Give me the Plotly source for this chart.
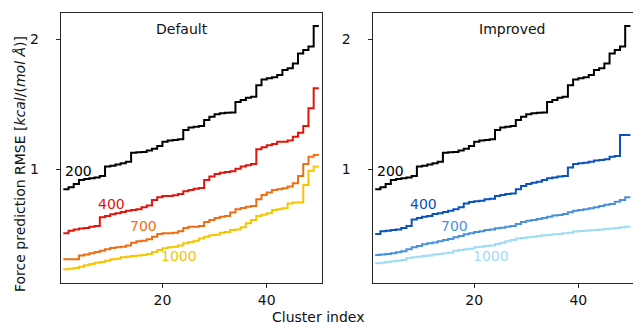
import plotly.graph_objects as go

# Cluster indices (50 clusters, step lines)
clusters = list(range(1, 51))

# Sorted per-cluster force RMSE values, one value per step level
default_200 = [0.846,0.862,0.887,0.918,0.926,0.931,0.938,0.949,1.021,1.028,1.038,1.046,1.059,1.128,1.131,1.133,1.144,1.159,1.179,1.213,1.221,1.226,1.231,1.303,1.321,1.328,1.333,1.379,1.405,1.423,1.431,1.436,1.438,1.518,1.533,1.551,1.559,1.646,1.692,1.700,1.708,1.726,1.764,1.777,1.815,1.892,1.918,1.944,2.103]
default_400 = [0.508,0.528,0.538,0.544,0.549,0.559,0.564,0.631,0.641,0.654,0.662,0.672,0.682,0.687,0.692,0.708,0.721,0.764,0.785,0.795,0.795,0.800,0.810,0.831,0.841,0.851,0.856,0.918,0.944,0.964,0.974,0.979,0.985,1.005,1.021,1.031,1.041,1.154,1.169,1.185,1.195,1.213,1.213,1.221,1.251,1.282,1.333,1.469,1.623]
default_700 = [0.308,0.308,0.308,0.338,0.344,0.354,0.364,0.374,0.385,0.395,0.400,0.405,0.415,0.436,0.446,0.451,0.462,0.482,0.503,0.508,0.508,0.513,0.523,0.549,0.559,0.559,0.564,0.595,0.610,0.626,0.636,0.641,0.667,0.692,0.703,0.713,0.718,0.769,0.803,0.821,0.841,0.846,0.854,0.867,0.892,0.949,1.041,1.097,1.110]
default_1000 = [0.231,0.236,0.241,0.251,0.262,0.272,0.282,0.287,0.297,0.308,0.313,0.323,0.328,0.333,0.338,0.341,0.349,0.364,0.379,0.392,0.400,0.405,0.415,0.431,0.441,0.451,0.467,0.482,0.492,0.497,0.513,0.518,0.533,0.538,0.554,0.585,0.610,0.641,0.651,0.662,0.687,0.692,0.700,0.738,0.744,0.744,0.879,0.990,1.021]

improved_200 = list(default_200)
improved_400 = [0.503,0.523,0.528,0.533,0.538,0.549,0.564,0.615,0.626,0.636,0.641,0.656,0.662,0.672,0.682,0.692,0.708,0.738,0.749,0.754,0.759,0.769,0.774,0.795,0.803,0.810,0.815,0.846,0.872,0.887,0.897,0.905,0.918,0.931,0.938,0.944,0.949,1.015,1.041,1.046,1.051,1.059,1.067,1.072,1.077,1.097,1.103,1.264,1.264]
improved_700 = [0.341,0.344,0.349,0.354,0.362,0.369,0.385,0.400,0.410,0.423,0.431,0.438,0.446,0.456,0.464,0.477,0.487,0.500,0.508,0.518,0.523,0.533,0.538,0.546,0.551,0.559,0.564,0.579,0.595,0.605,0.610,0.618,0.626,0.636,0.644,0.649,0.656,0.669,0.682,0.687,0.692,0.700,0.708,0.718,0.728,0.733,0.751,0.764,0.785]
improved_1000 = [0.277,0.282,0.287,0.292,0.297,0.303,0.318,0.323,0.328,0.333,0.338,0.344,0.349,0.354,0.359,0.374,0.379,0.385,0.390,0.400,0.405,0.410,0.415,0.426,0.436,0.446,0.456,0.467,0.472,0.477,0.482,0.487,0.492,0.495,0.500,0.503,0.508,0.513,0.521,0.526,0.528,0.531,0.533,0.538,0.541,0.544,0.549,0.554,0.559]

sample_labels = ["200", "400", "700", "1000"]
panel_titles = ["Default", "Improved"]
x_ticks = [20, 40]
y_ticks = [1, 2]
y_tick_text = ["1", "2"]

default_colors = ["#000000", "#e3140c", "#f06e12", "#f7c400"]
improved_colors = ["#000000", "#0a52bd", "#4a90dc", "#9edcf8"]

# label anchor positions (data coords) for the sample-size labels
label_x = [4.0, 10.3, 16.3, 23.2]
label_y = [0.985, 0.735, 0.565, 0.333]

FONT = "DejaVu Sans"
FS = 14
fig = go.Figure()

panels = [
    ([default_200, default_400, default_700, default_1000], default_colors, "x", "y"),
    ([improved_200, improved_400, improved_700, improved_1000], improved_colors, "x2", "y2"),
]

for series, colors, xa, ya in panels:
    for vals, col in zip(series, colors):
        yy = vals + [vals[-1]]
        fig.add_trace(go.Scatter(x=clusters, y=yy, mode="lines", line=dict(color=col, width=2, shape="hv"),
                                 xaxis=xa, yaxis=ya, showlegend=False, hoverinfo="skip"))
    for lab, lx, ly, col in zip(sample_labels, label_x, label_y, colors):
        fig.add_annotation(x=lx, y=ly, xref=xa, yref=ya, text=lab, showarrow=False,
                           font=dict(family=FONT, size=FS, color=col), xanchor="center", yanchor="middle")

W, H = 633, 326
top_px, bot_px = 13, 283
ydom = [1 - bot_px / H, 1 - top_px / H]

axis_common = dict(showline=True, linecolor="#262626", linewidth=1.2, mirror=True, showgrid=False, zeroline=False,
                   ticks="outside", ticklen=4, tickwidth=1, tickcolor="#262626",
                   tickfont=dict(family=FONT, size=FS, color="#111111"))

fig.update_layout(
    width=W, height=H, margin=dict(l=0, r=0, t=0, b=0),
    paper_bgcolor="white", plot_bgcolor="white",
    xaxis=dict(domain=[60.7 / W, 321.5 / W], range=[0.5, 50.5], tickvals=x_ticks, anchor="y", **axis_common),
    yaxis=dict(domain=ydom, range=[0.1256, 2.2026], tickvals=y_ticks, ticktext=y_tick_text, anchor="x",
               ticklabelstandoff=14, **axis_common),
    xaxis2=dict(domain=[372.6 / W, 1.0], range=[0.5, 50.5], tickvals=x_ticks, anchor="y2", **axis_common),
    yaxis2=dict(domain=ydom, range=[0.1256, 2.2026], tickvals=y_ticks, ticktext=y_tick_text, anchor="x2",
                ticklabelstandoff=14, **axis_common),
)

# panel titles
fig.add_annotation(x=0.465, y=0.94, xref="x domain", yref="y domain", text=panel_titles[0], showarrow=False,
                   font=dict(family=FONT, size=FS, color="#111111"), xanchor="center", yanchor="middle")
fig.add_annotation(x=0.535, y=0.94, xref="x2 domain", yref="y2 domain", text=panel_titles[1], showarrow=False,
                   font=dict(family=FONT, size=FS, color="#111111"), xanchor="center", yanchor="middle")

# axis titles
fig.add_annotation(x=318 / W, y=1 - 317 / H, xref="paper", yref="paper", text="Cluster index", showarrow=False,
                   font=dict(family=FONT, size=FS, color="#111111"), xanchor="center", yanchor="middle")
fig.add_annotation(x=20 / W, y=1 - 164 / H, xref="paper", yref="paper", textangle=-90,
                   text="Force prediction RMSE [<i>kcal</i>/(<i>mol Å</i>)]", showarrow=False,
                   font=dict(family=FONT, size=FS, color="#111111"), xanchor="center", yanchor="middle")

fig.write_html("out.html")
